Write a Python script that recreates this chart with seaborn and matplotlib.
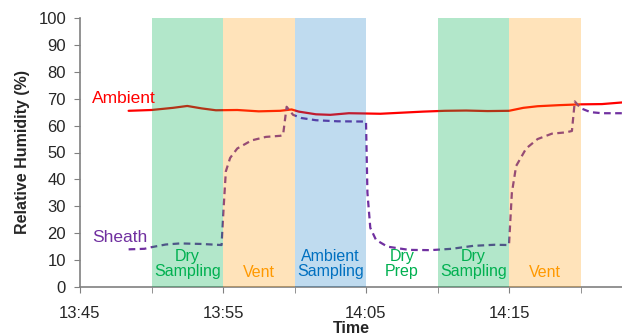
import matplotlib
matplotlib.use("Agg")
import matplotlib.pyplot as plt
import seaborn as sns
import pandas as pd

# Minutes after 13:45
ambient_t = [3.4, 5.0, 6.5, 7.5, 8.5, 9.5, 11.0, 12.5, 14.0, 14.8, 15.3, 16.5, 17.5, 18.8, 20.0,
             21.0, 22.5, 24.0, 25.5, 27.0, 28.5, 30.0, 31.0, 32.0, 33.5, 35.0, 36.5, 37.9]
ambient_rh = [65.5, 65.8, 66.6, 67.3, 66.4, 65.7, 65.8, 65.3, 65.5, 66.0, 65.2, 64.2, 64.0, 64.6, 64.5,
              64.4, 64.8, 65.2, 65.5, 65.6, 65.4, 65.5, 66.6, 67.2, 67.6, 67.9, 68.0, 68.6]

sheath_t = [3.4, 4.5, 5.0, 6.0, 7.0, 8.5, 9.9, 10.05, 10.2, 10.5, 11.0, 12.0, 13.0, 14.0, 14.2,
            14.45, 14.9, 15.5, 16.5, 18.0, 20.0, 20.1, 20.3, 20.7, 21.5, 23.0, 24.5, 26.0, 27.5,
            29.0, 30.0, 30.2, 30.5, 31.2, 32.0, 33.0, 34.0, 34.4, 34.6, 35.0, 35.7, 36.5, 37.9]
sheath_rh = [14.0, 14.2, 14.8, 15.8, 16.2, 16.0, 15.6, 30.0, 43.0, 48.0, 51.5, 54.5, 55.8, 56.2, 56.5,
             67.0, 64.0, 62.8, 62.0, 61.6, 61.5, 35.0, 22.0, 17.5, 15.0, 13.8, 13.7, 14.2, 15.3,
             15.7, 15.6, 35.0, 45.0, 51.5, 55.0, 57.0, 57.5, 58.0, 69.0, 66.5, 65.0, 64.6, 64.6]

# Phases: start, end (minutes after 13:45), label
phase_start = [5, 10, 15, 20, 25, 30]
phase_end = [10, 15, 20, 25, 30, 35]
phase_label = ["Dry\nSampling", "Vent", "Ambient\nSampling", "Dry\nPrep", "Dry\nSampling", "Vent"]
phase_kind = ["dry", "vent", "ambient", "prep", "dry", "vent"]

xtick_pos = [0, 10, 20, 30]
xtick_labels = ["13:45", "13:55", "14:05", "14:15"]

band_color = {"dry": "#00b050", "vent": "#ff9900", "ambient": "#0070c0", "prep": None}
band_alpha = {"dry": 0.30, "vent": 0.27, "ambient": 0.25, "prep": 0}
text_color = {"dry": "#00b050", "vent": "#ff9900", "ambient": "#0070c0", "prep": "#00b050"}

sns.set_style("white")
plt.rcParams["font.family"] = ["Liberation Sans", "DejaVu Sans"]

fig = plt.figure(figsize=(6.22, 3.36), dpi=100)
ax = fig.add_axes([80 / 622, 1 - 287 / 336, 1 - 80 / 622, (287 - 18) / 336])

df_amb = pd.DataFrame({"t": ambient_t, "rh": ambient_rh})
df_sh = pd.DataFrame({"t": sheath_t, "rh": sheath_rh})
sns.lineplot(data=df_amb, x="t", y="rh", ax=ax, color="#ff0000", linewidth=1.6, zorder=2)
sns.lineplot(data=df_sh, x="t", y="rh", ax=ax, color="#7030a0", linewidth=1.6,
             linestyle=(0, (3, 2)), zorder=2)

for s, e, lab, k in zip(phase_start, phase_end, phase_label, phase_kind):
    if band_color[k]:
        ax.axvspan(s, e, color=band_color[k], alpha=band_alpha[k], lw=0, zorder=3)
    ax.text((s + e) / 2, 8.5 if "\n" in lab else 5.5, lab, ha="center", va="center",
            color=text_color[k], fontsize=11.5, linespacing=1.05, zorder=4)

ax.text(0.85, 70, "Ambient", color="#ff0000", fontsize=12.5, va="center")
ax.text(0.85, 18.5, "Sheath", color="#7030a0", fontsize=12.5, va="center")

ax.set_xlim(0, (622 - 80) / 14.3)
ax.set_ylim(0, 100)
ax.set_yticks(range(0, 101, 10))
ax.set_xticks(xtick_pos)
ax.set_xticklabels(xtick_labels)
ax.set_xticks([5, 15, 25, 35], minor=True)
ax.tick_params(axis="both", which="both", direction="out", length=4, color="#808080",
               labelsize=12, pad=6, bottom=True, left=True)
ax.tick_params(axis="x", pad=10)
for sp in ["top", "right"]:
    ax.spines[sp].set_visible(False)
for sp in ["left", "bottom"]:
    ax.spines[sp].set_color("#808080")
    ax.spines[sp].set_linewidth(1.2)

ax.set_xlabel("Time", fontsize=11.5, fontweight="bold", labelpad=0)
ax.set_ylabel("Relative Humidity (%)", fontsize=11.5, fontweight="bold", labelpad=6)

fig.savefig("out.png", dpi=100)
